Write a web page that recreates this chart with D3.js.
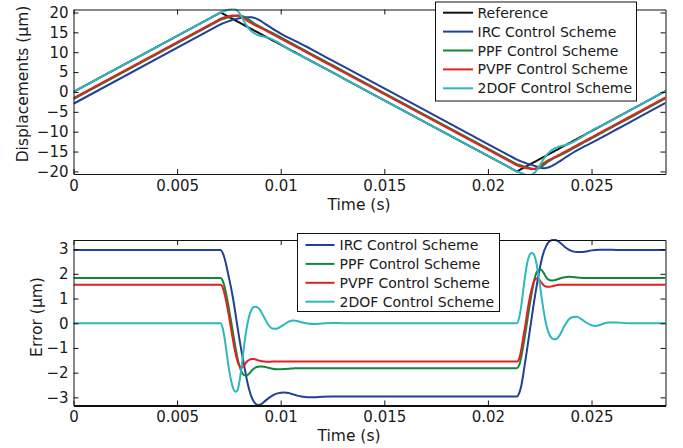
<!DOCTYPE html>
<html><head><meta charset="utf-8">
<script src="https://cdn.jsdelivr.net/npm/d3@7"></script>
<style>
body{margin:0;background:#fff}
svg{display:block}
text{font-family:"DejaVu Sans",sans-serif;fill:#1a1a1a}
</style>
</head><body>
<svg id="c" width="683" height="448"></svg>
<script>
// ---------- data ----------
const time = [0, 0.0070, 0.0071, 0.0072, 0.0073, 0.0074, 0.0075, 0.0076, 0.0077, 0.0078, 0.0079, 0.0080, 0.0081, 0.0082, 0.0083, 0.0084, 0.0085, 0.0086, 0.0087, 0.0088, 0.0089, 0.0090, 0.0091, 0.0092,
  0.0094, 0.0096, 0.0098, 0.0100, 0.0102, 0.0104, 0.0106, 0.0108, 0.0110,
  0.0113, 0.0116, 0.0120, 0.0125, 0.0130,
  0.0200, 0.0213,
  0.0214, 0.0215, 0.0216, 0.0217, 0.0218, 0.0219, 0.0220, 0.0221, 0.0222, 0.0223, 0.0224, 0.0225, 0.0226, 0.0227, 0.0228, 0.0229, 0.0230, 0.0231, 0.0232, 0.0233, 0.0234, 0.0235,
  0.0237, 0.0239, 0.0241, 0.0243, 0.0245, 0.0247,
  0.0250, 0.0252, 0.0254, 0.0256, 0.0258,
  0.0262, 0.0268, 0.0275, 0.02857];

const reference = [0, 19.72, 20, 19.72, 19.44, 19.16, 18.88, 18.60, 18.32, 18.04, 17.76, 17.48, 17.20, 16.92, 16.64, 16.36, 16.08, 15.80, 15.52, 15.24, 14.97, 14.69, 14.41, 14.13,
  13.57, 13.01, 12.45, 11.89, 11.33, 10.77, 10.21, 9.65, 9.09,
  8.25, 7.41, 6.29, 4.90, 3.50,
  -16.08, -19.72,
  -20, -19.72, -19.44, -19.15, -18.87, -18.59, -18.31, -18.03, -17.75, -17.46, -17.18, -16.90, -16.62, -16.34, -16.06, -15.77, -15.49, -15.21, -14.93, -14.65, -14.37, -14.08,
  -13.52, -12.96, -12.39, -11.83, -11.27, -10.70,
  -9.86, -9.30, -8.73, -8.17, -7.61,
  -6.48, -4.79, -2.82, 0.20];

const dispIRC = [-2.97, 16.75, 17.03, 17.25, 17.45, 17.64, 17.82, 17.99, 18.15, 18.30, 18.44, 18.56, 18.66, 18.74, 18.80, 18.83, 18.83, 18.78, 18.68, 18.51, 18.28, 17.99, 17.66, 17.31,
  16.61, 15.94, 15.30, 14.70, 14.13, 13.60, 13.09, 12.58, 12.06,
  11.25, 10.41, 9.27, 7.87, 6.47,
  -13.11, -16.75,
  -17.03, -17.25, -17.46, -17.66, -17.85, -18.03, -18.20, -18.36, -18.51, -18.68, -18.86, -19.02, -19.15, -19.22, -19.16, -19.02, -18.82, -18.58, -18.31, -18.01, -17.68, -17.33,
  -16.62, -15.94, -15.30, -14.71, -14.15, -13.60,
  -12.81, -12.27, -11.71, -11.15, -10.59,
  -9.45, -7.76, -5.79, -2.77];

const dispPPF = [-1.83, 17.89, 18.17, 18.33, 18.50, 18.66, 18.80, 18.93, 19.04, 19.12, 19.17, 19.18, 19.12, 19.00, 18.76, 18.46, 18.10, 17.72, 17.36, 17.03, 16.73, 16.44, 16.16, 15.89,
  15.37, 14.85, 14.31, 13.75, 13.18, 12.61, 12.04, 11.47, 10.91,
  10.07, 9.23, 8.11, 6.72, 5.32,
  -14.26, -17.90,
  -18.18, -18.34, -18.50, -18.66, -18.82, -18.98, -19.13, -19.26, -19.36, -19.41, -19.31, -19.09, -18.77, -18.36, -17.94, -17.55, -17.23, -16.94, -16.67, -16.41, -16.16, -15.90,
  -15.38, -14.84, -14.26, -13.68, -13.11, -12.53,
  -11.69, -11.13, -10.56, -10.00, -9.44,
  -8.31, -6.62, -4.65, -1.63];

const dispPVPF = [-1.56, 18.16, 18.44, 18.62, 18.80, 18.95, 19.07, 19.16, 19.22, 19.25, 19.24, 19.16, 19.00, 18.66, 18.27, 17.89, 17.55, 17.25, 16.97, 16.71, 16.47, 16.21, 15.95, 15.68,
  15.13, 14.56, 14.00, 13.44, 12.88, 12.32, 11.76, 11.20, 10.64,
  9.80, 8.96, 7.84, 6.45, 5.05,
  -14.53, -18.17,
  -18.45, -18.63, -18.80, -18.96, -19.10, -19.23, -19.32, -19.38, -19.40, -19.26, -19.00, -18.64, -18.24, -17.87, -17.55, -17.25, -16.97, -16.71, -16.45, -16.19, -15.92, -15.64,
  -15.08, -14.52, -13.95, -13.39, -12.83, -12.26,
  -11.42, -10.86, -10.29, -9.73, -9.17,
  -8.04, -6.35, -4.38, -1.36];

const disp2DOF = [0, 19.72, 20, 20.2, 20.4, 20.6, 20.78, 20.90, 20.94, 20.81, 20.50, 19.88, 19.05, 18.07, 17.14, 16.36, 15.73, 15.23, 14.86, 14.57, 14.34, 14.15, 14.01, 13.89,
  13.63, 13.22, 12.67, 12.03, 11.36, 10.70, 10.10, 9.56, 9.05,
  8.26, 7.44, 6.30, 4.89, 3.50,
  -16.08, -19.72,
  -20, -20.2, -20.4, -20.62, -20.85, -21.04, -21.06, -20.87, -20.55, -20.04, -19.33, -18.50, -17.62, -16.79, -16.06, -15.45, -14.97, -14.59, -14.28, -14.01, -13.81, -13.65,
  -13.42, -13.11, -12.64, -12.09, -11.44, -10.75,
  -9.78, -9.19, -8.66, -8.16, -7.64,
  -6.51, -4.79, -2.82, 0.20];

const errIRC = [2.97, 2.97, 2.97, 2.85, 2.6, 2.25, 1.85, 1.45, 1.0, 0.48, -0.07, -0.6, -1.1, -1.55, -2.0, -2.42, -2.75, -3.0, -3.17, -3.27, -3.31, -3.3, -3.25, -3.18,
  -3.04, -2.93, -2.85, -2.81, -2.8, -2.83, -2.88, -2.93, -2.97,
  -3.0, -3.0, -2.98, -2.97, -2.97,
  -2.97, -2.97,
  -2.97, -2.85, -2.57, -2.1, -1.55, -1.0, -0.42, 0.15, 0.72, 1.25, 1.75, 2.2, 2.6, 2.9, 3.1, 3.25, 3.33, 3.37, 3.38, 3.36, 3.31, 3.25,
  3.1, 2.98, 2.91, 2.88, 2.88, 2.9,
  2.95, 2.97, 2.98, 2.98, 2.98,
  2.97, 2.97, 2.97, 2.97];

const errPPF = [1.83, 1.83, 1.83, 1.72, 1.45, 1.05, 0.6, 0.1, -0.4, -0.9, -1.35, -1.7, -1.95, -2.08, -2.12, -2.1, -2.02, -1.92, -1.84, -1.79, -1.76, -1.75, -1.75, -1.76,
  -1.8, -1.84, -1.86, -1.86, -1.85, -1.84, -1.83, -1.82, -1.82,
  -1.82, -1.82, -1.82, -1.82, -1.82,
  -1.82, -1.82,
  -1.82, -1.72, -1.4, -0.95, -0.45, 0.1, 0.65, 1.15, 1.6, 1.95, 2.13, 2.19, 2.15, 2.02, 1.88, 1.78, 1.74, 1.73, 1.74, 1.76, 1.79, 1.82,
  1.86, 1.88, 1.87, 1.85, 1.84, 1.83,
  1.83, 1.83, 1.83, 1.83, 1.83,
  1.83, 1.83, 1.83, 1.83];

const errPVPF = [1.56, 1.56, 1.56, 1.45, 1.15, 0.75, 0.3, -0.2, -0.7, -1.15, -1.5, -1.72, -1.8, -1.74, -1.63, -1.53, -1.47, -1.45, -1.45, -1.47, -1.5, -1.52, -1.54, -1.55,
  -1.56, -1.55, -1.55, -1.55, -1.55, -1.55, -1.55, -1.55, -1.55,
  -1.55, -1.55, -1.55, -1.55, -1.55,
  -1.55, -1.55,
  -1.55, -1.45, -1.1, -0.6, -0.1, 0.45, 0.95, 1.35, 1.65, 1.8, 1.82, 1.74, 1.62, 1.53, 1.49, 1.48, 1.48, 1.5, 1.52, 1.54, 1.55, 1.56,
  1.56, 1.56, 1.56, 1.56, 1.56, 1.56,
  1.56, 1.56, 1.56, 1.56, 1.56,
  1.56, 1.56, 1.56, 1.56];

const err2DOF = [0, 0, 0, -0.2, -0.65, -1.25, -1.85, -2.3, -2.62, -2.77, -2.74, -2.4, -1.85, -1.15, -0.5, 0.0, 0.35, 0.57, 0.66, 0.67, 0.63, 0.54, 0.4, 0.24,
  -0.06, -0.21, -0.22, -0.14, -0.03, 0.07, 0.11, 0.09, 0.04,
  -0.01, -0.03, -0.01, 0.01, 0,
  0, 0,
  0, 0.2, 0.65, 1.3, 1.95, 2.45, 2.75, 2.84, 2.8, 2.58, 2.15, 1.6, 1.0, 0.45, 0.0, -0.32, -0.52, -0.62, -0.65, -0.64, -0.56, -0.43,
  -0.1, 0.15, 0.25, 0.26, 0.17, 0.05,
  -0.08, -0.11, -0.07, -0.01, 0.03,
  0.03, 0, 0, 0];

const topNames = ["Reference", "IRC Control Scheme", "PPF Control Scheme", "PVPF Control Scheme", "2DOF Control Scheme"];
const bottomNames = ["IRC Control Scheme", "PPF Control Scheme", "PVPF Control Scheme", "2DOF Control Scheme"];
const xTicks = [0, 0.005, 0.01, 0.015, 0.02, 0.025];
const xTickLabels = ["0", "0.005", "0.01", "0.015", "0.02", "0.025"];
const yTicksTop = [-20, -15, -10, -5, 0, 5, 10, 15, 20];
const yTicksBottom = [-3, -2, -1, 0, 1, 2, 3];
const xDomain = [0, 0.02857];
const yDomainTop = [-20.65, 20.75];
const yDomainBottom = [-3.33, 3.37];

// ---------- styling ----------
const colorOf = {
  "Reference": "#111111",
  "IRC Control Scheme": "#233f97",
  "PPF Control Scheme": "#12873a",
  "PVPF Control Scheme": "#e6201f",
  "2DOF Control Scheme": "#2bb8bf"
};
const topSeries = [reference, dispIRC, dispPPF, dispPVPF, disp2DOF];
const bottomSeries = [errIRC, errPPF, errPVPF, err2DOF];

const svg = d3.select("#c");

function panel(cfg) {
  const x = d3.scaleLinear().domain(xDomain).range([cfg.left, cfg.right]);
  const y = d3.scaleLinear().domain(cfg.yDomain).range([cfg.bottom, cfg.top]);
  const g = svg.append("g");
  const clipId = "clip" + cfg.id;
  svg.append("clipPath").attr("id", clipId).append("rect")
    .attr("x", cfg.left).attr("y", cfg.top - 1)
    .attr("width", cfg.right - cfg.left).attr("height", cfg.bottom - cfg.top + 2);

  const line = d3.line().x((d, i) => x(time[i])).y(d => y(d)).curve(d3.curveMonotoneX);
  const lines = g.append("g").attr("clip-path", `url(#${clipId})`);
  cfg.series.forEach((s, k) => {
    lines.append("path").datum(s)
      .attr("fill", "none").attr("stroke", colorOf[cfg.names[k]])
      .attr("stroke-width", 2).attr("stroke-linejoin", "round")
      .attr("d", line);
  });

  const fontSize = "15px";
  const ax = (gen, tx, ty, w) => {
    const a = g.append("g").attr("transform", `translate(${tx},${ty})`).call(gen);
    a.selectAll("path.domain").attr("stroke", "#111").attr("stroke-width", w || 1);
    a.selectAll(".tick line").attr("stroke", "#111");
    a.selectAll("text").attr("font-size", fontSize).attr("fill", "#1a1a1a")
      .attr("font-family", '"DejaVu Sans",sans-serif');
    return a;
  };
  ax(d3.axisBottom(x).tickValues(xTicks).tickFormat((d, i) => xTickLabels[i])
      .tickSizeInner(-5).tickSizeOuter(0).tickPadding(6), 0, cfg.bottom, cfg.bottomWidth);
  ax(d3.axisTop(x).tickValues(xTicks).tickFormat("").tickSizeInner(-5).tickSizeOuter(0), 0, cfg.top);
  ax(d3.axisLeft(y).tickValues(cfg.yTicks).tickFormat(d3.format("d"))
      .tickSizeInner(-5).tickSizeOuter(0).tickPadding(5), cfg.left, 0);
  ax(d3.axisRight(y).tickValues(cfg.yTicks).tickFormat("").tickSizeInner(-5).tickSizeOuter(0), cfg.right, 0);

  g.append("text").attr("x", cfg.xLabelX).attr("y", cfg.xLabelY)
    .attr("text-anchor", "middle").attr("font-size", "15.5px").text("Time (s)");
  g.append("text").attr("transform", `translate(${cfg.yLabelX},${cfg.yLabelY}) rotate(-90)`)
    .attr("text-anchor", "middle").attr("font-size", "15.5px").text(cfg.yLabel);

  // legend
  const L = cfg.legend;
  const lg = g.append("g");
  lg.append("rect").attr("x", L.x + 0.5).attr("y", L.y + 0.5).attr("width", L.w).attr("height", L.h)
    .attr("fill", "#fff").attr("stroke", "#111").attr("stroke-width", 1);
  cfg.names.forEach((n, k) => {
    const cy = L.firstRow + k * L.rowStep;
    lg.append("line").attr("x1", L.lineX1).attr("x2", L.lineX2).attr("y1", cy).attr("y2", cy)
      .attr("stroke", colorOf[n]).attr("stroke-width", 2);
    lg.append("text").attr("x", L.textX).attr("y", cy).attr("dy", "0.36em")
      .attr("font-size", "14px").text(n);
  });
}

panel({
  id: "top", left: 73.5, right: 665.5, top: 9.5, bottom: 174,
  yDomain: yDomainTop, yTicks: yTicksTop, series: topSeries, names: topNames,
  yLabel: "Displacements (μm)", yLabelX: 28, yLabelY: 84,
  xLabelX: 359, xLabelY: 210,
  legend: {x: 435, y: 1.5, w: 201, h: 99, firstRow: 12.7, rowStep: 18.9, lineX1: 443, lineX2: 473, textX: 477.5}
});
panel({
  id: "bot", left: 73.5, right: 665.5, top: 240, bottom: 405.5, bottomWidth: 2,
  yDomain: yDomainBottom, yTicks: yTicksBottom, series: bottomSeries, names: bottomNames,
  yLabel: "Error (μm)", yLabelX: 42, yLabelY: 317,
  xLabelX: 349, xLabelY: 441,
  legend: {x: 297, y: 233, w: 202, h: 78, firstRow: 245, rowStep: 18.9, lineX1: 305.5, lineX2: 334.5, textX: 339.5}
});
</script>
</body></html>
